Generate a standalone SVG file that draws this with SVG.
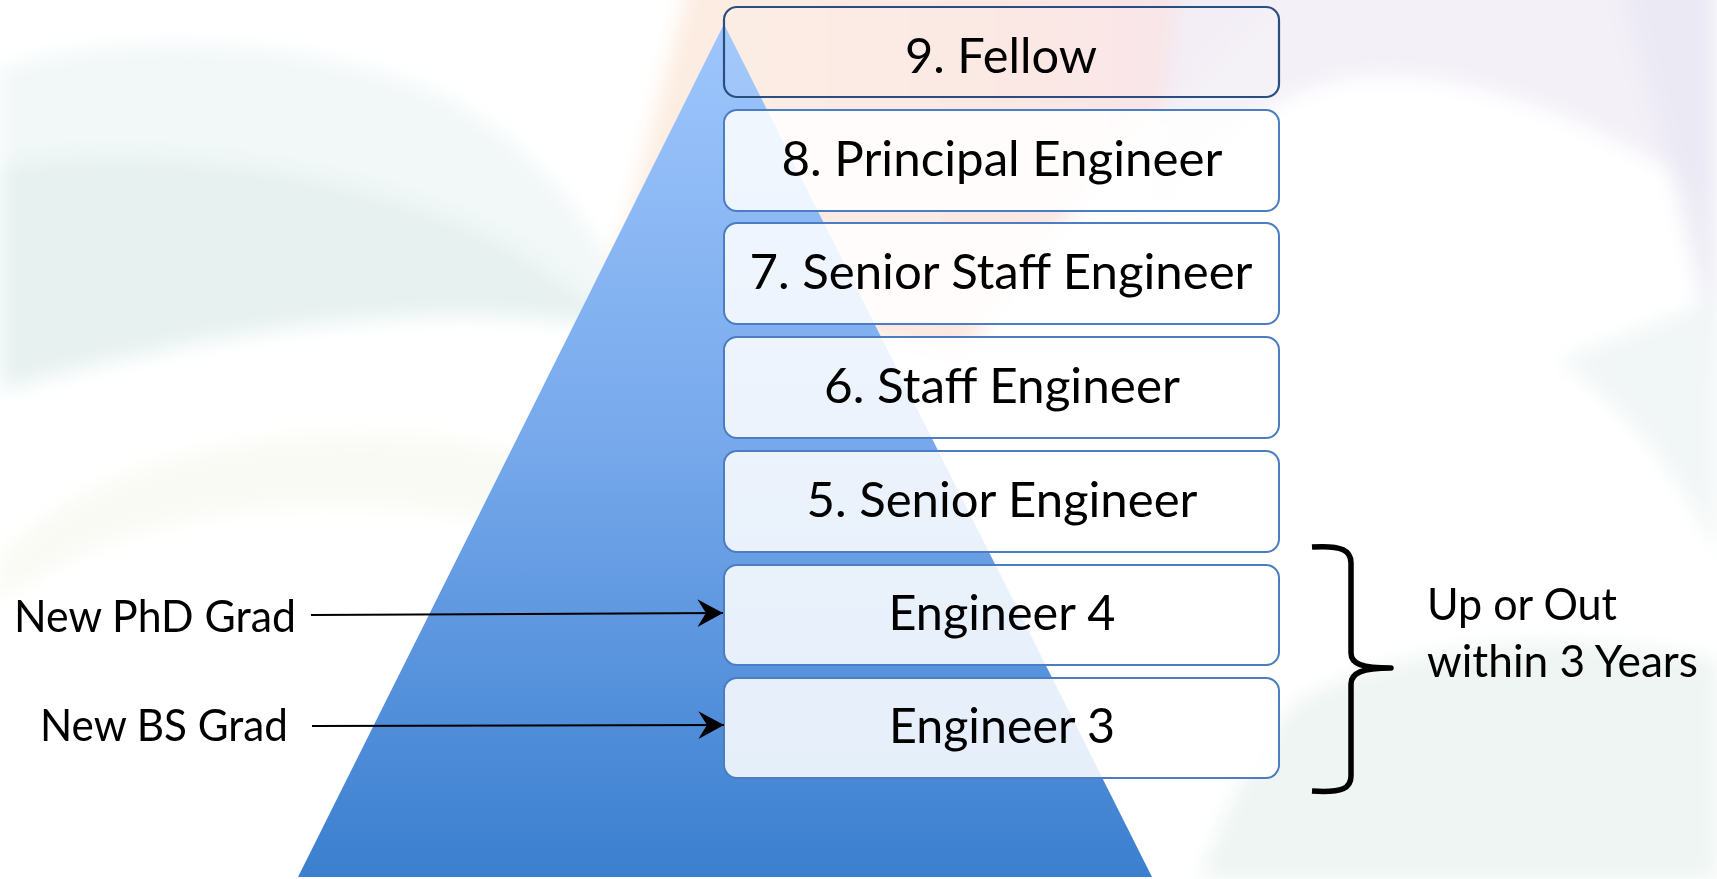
<svg xmlns="http://www.w3.org/2000/svg" width="1717" height="879" viewBox="0 0 1717 879">
<style>
.lvl{fill:#ffffff;fill-opacity:0.86;stroke:#4A7DC2;stroke-width:2}
.top{fill:#ffffff;fill-opacity:0.08;stroke:#2B4E80;stroke-width:2.2}
.t{font-family:Lato,"Open Sans","Liberation Sans",sans-serif;font-size:49px;fill:#000;text-anchor:middle}
.s{font-family:Lato,"Open Sans","Liberation Sans",sans-serif;font-size:45px;fill:#000}
.conn{stroke:#000;stroke-width:2;fill:none}
</style>
<defs>
<linearGradient id="pyr" x1="0" y1="0" x2="0" y2="1">
<stop offset="0" stop-color="#9EC6FC"/>
<stop offset="0.5" stop-color="#76A8EB"/>
<stop offset="1" stop-color="#3B7FCF"/>
</linearGradient>
<linearGradient id="warm" x1="0" y1="0" x2="1" y2="0">
<stop offset="0" stop-color="#FCEDE0"/>
<stop offset="0.55" stop-color="#FBE6E0"/>
<stop offset="1" stop-color="#F6DFE8"/>
</linearGradient>
<filter id="blur" x="-20%" y="-20%" width="140%" height="140%">
<feGaussianBlur stdDeviation="10"/>
</filter>
<marker id="arr" markerUnits="userSpaceOnUse" markerWidth="32" markerHeight="32" viewBox="-26 -15 28 30" refX="0" refY="0" orient="auto">
<path d="M0,0 L-24,-13 L-16,0 L-24,13 Z" fill="#000"/>
</marker>
</defs>
<g id="background">
<rect x="0" y="0" width="1717" height="879" fill="#ffffff"/>
<g filter="url(#blur)">
<path d="M690,-20 L1290,-20 C1190,80 1070,200 960,360 C860,330 760,320 600,330 Z" fill="url(#warm)" opacity="0.95"/>
<path d="M610,240 C625,300 640,360 660,430 L690,430 C670,360 650,300 640,240 Z" fill="#FBF7E4" opacity="0.8"/>
<path d="M1180,-20 L1717,-20 L1717,200 C1600,120 1450,60 1340,80 C1260,100 1200,150 1150,220 Z" fill="#F2EEF6" opacity="0.9"/>
<path d="M1640,60 C1680,200 1705,300 1717,380 L1717,-20 L1620,-20 Z" fill="#E8E7F3" opacity="0.8"/>
<path d="M0,70 C100,35 300,30 450,100 C540,150 600,230 640,330 C500,300 300,300 0,390 Z" fill="#F1F7F8" opacity="0.95"/>
<path d="M0,165 C150,140 350,170 480,230 C540,260 590,300 620,330 C500,305 300,305 0,390 Z" fill="#E6F1EF" opacity="0.9"/>
<path d="M0,560 C80,470 250,420 440,440 C520,450 580,470 620,490 L600,560 C520,520 420,500 300,505 C180,510 80,540 0,600 Z" fill="#F7F8F0" opacity="0.7"/>
<path d="M1300,700 C1420,640 1560,630 1717,660 L1717,879 L1200,879 C1230,800 1260,740 1300,700 Z" fill="#EAF3EF" opacity="0.8"/>
<path d="M1560,360 C1640,420 1700,500 1717,560 L1717,300 Z" fill="#EEF4F4" opacity="0.8"/>
</g>
</g>
<g id="pyramid">
<polygon points="724,24 1152,877 298,877" fill="url(#pyr)"/>
</g>
<g id="level9"><rect class="top" x="724" y="7" width="555" height="90" rx="13"/><text class="t" x="1001" y="73" textLength="192" lengthAdjust="spacingAndGlyphs">9. Fellow</text></g>
<g id="level8"><rect class="lvl" x="724" y="110" width="555" height="101" rx="13"/><text class="t" x="1002" y="176" textLength="441" lengthAdjust="spacingAndGlyphs">8. Principal Engineer</text></g>
<g id="level7"><rect class="lvl" x="724" y="223" width="555" height="101" rx="13"/><text class="t" x="1001" y="289" textLength="503" lengthAdjust="spacingAndGlyphs">7. Senior Staff Engineer</text></g>
<g id="level6"><rect class="lvl" x="724" y="337" width="555" height="101" rx="13"/><text class="t" x="1002" y="403" textLength="356" lengthAdjust="spacingAndGlyphs">6. Staff Engineer</text></g>
<g id="level5"><rect class="lvl" x="724" y="451" width="555" height="101" rx="13"/><text class="t" x="1002" y="517" textLength="391" lengthAdjust="spacingAndGlyphs">5. Senior Engineer</text></g>
<g id="level4"><rect class="lvl" x="724" y="565" width="555" height="100" rx="13"/><text class="t" x="1002" y="630" textLength="227" lengthAdjust="spacingAndGlyphs">Engineer 4</text></g>
<g id="level3"><rect class="lvl" x="724" y="678" width="555" height="100" rx="13"/><text class="t" x="1002" y="743" textLength="226" lengthAdjust="spacingAndGlyphs">Engineer 3</text></g>
<g id="phd"><text class="s" x="14" y="632" textLength="282" lengthAdjust="spacingAndGlyphs">New PhD Grad</text></g>
<g id="bs"><text class="s" x="40" y="741" textLength="248" lengthAdjust="spacingAndGlyphs">New BS Grad</text></g>
<g id="upout"><text class="s" x="1427" y="620" textLength="190" lengthAdjust="spacingAndGlyphs">Up or Out</text><text class="s" x="1427" y="677" textLength="271" lengthAdjust="spacingAndGlyphs">within 3 Years</text></g>
<g id="connectors">
<line class="conn" x1="311" y1="615" x2="723" y2="613" marker-end="url(#arr)"/>
<line class="conn" x1="312" y1="726" x2="724" y2="725" marker-end="url(#arr)"/>
<path d="M1312,547 C1343,545 1351,551 1351,563 L1351,653 C1351,664 1362,668 1391,668 C1362,668 1351,673 1351,684 L1351,776 C1351,788 1343,793 1312,791" fill="none" stroke="#000" stroke-width="5.5" stroke-linejoin="round"/>
</g>
</svg>
